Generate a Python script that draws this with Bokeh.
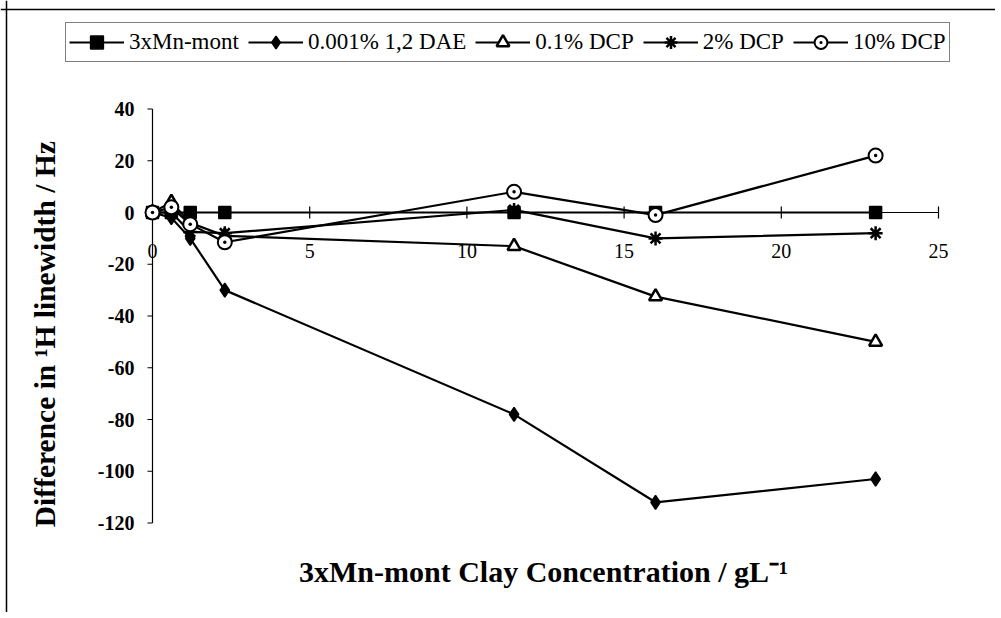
import math
from bokeh.plotting import figure
from bokeh.models import Range1d, Legend, LegendItem, Label, Span
from bokeh.core.properties import value
from bokeh.embed import file_html
from bokeh.resources import INLINE

# ---- data ----
conc = [0, 0.6, 1.2, 2.3, 11.5, 16, 23]           # clay concentration / gL-1
mn_mont = [0, 0, 0, 0, 0, 0, 0]                    # 3xMn-mont
dae_0001 = [0, -2, -10, -30, -78, -112, -103]      # 0.001% 1,2 DAE
dcp_01 = [0, 4, -4, -9, -13, -32.5, -50]           # 0.1% DCP
dcp_2 = [0, 0, -7.5, -8, 1, -10, -8]               # 2% DCP
dcp_10 = [0, 2, -4.5, -11.5, 8, -1, 22]            # 10% DCP
series_names = ["3xMn-mont", "0.001% 1,2 DAE", "0.1% DCP", "2% DCP", "10% DCP"]
x_ticks = [0, 5, 10, 15, 20, 25]
y_ticks = [-120, -100, -80, -60, -40, -20, 0, 20, 40]
x_label = "3xMn-mont Clay Concentration / gL\u207b\u00b9"
y_label = "Difference in \u00b9H linewidth  / Hz"

FONT = "Liberation Serif"

# ---- canvas geometry (pixels) ----
W, H = 995, 612
PX_X0, PX_PER_X = 152.0, 31.44     # pixel column of x=0, pixels per x unit
PX_Y0, PX_PER_Y = 212.0, 2.5875    # pixel row of y=0, pixels per y unit
x_start = -PX_X0 / PX_PER_X
x_end = x_start + W / PX_PER_X
y_end = PX_Y0 / PX_PER_Y
y_start = y_end - H / PX_PER_Y


def dx(px):
    return x_start + px / PX_PER_X


def dy(py):
    return y_end - py / PX_PER_Y


p = figure(width=W, height=H, x_range=Range1d(x_start, x_end),
           y_range=Range1d(y_start, y_end),
           x_axis_location=None, y_axis_location=None,
           output_backend="svg", toolbar_location=None, min_border=0)
p.outline_line_color = None
p.grid.visible = False
p.background_fill_color = "white"
p.border_fill_color = "white"

# outer chart-area border (left and top edges visible in the reference)
p.add_layout(Span(location=dx(6), dimension="height", line_color="black", line_width=1.5))
p.add_layout(Span(location=dy(9), dimension="width", line_color="black", line_width=1.5))

# ---- axes drawn through the data scales ----
p.segment(x0=[x_ticks[0]], y0=[0], x1=[x_ticks[-1]], y1=[0], line_color="black", line_width=1.2)
p.segment(x0=[0], y0=[y_ticks[0]], x1=[0], y1=[y_ticks[-1]], line_color="black", line_width=1.2)
p.ray(x=x_ticks, y=[0] * len(x_ticks), length=6, length_units="screen",
      angle=math.pi / 2, line_color="black", line_width=1.2)
p.ray(x=x_ticks, y=[0] * len(x_ticks), length=6, length_units="screen",
      angle=-math.pi / 2, line_color="black", line_width=1.2)
p.ray(x=[0] * len(y_ticks), y=y_ticks, length=5, length_units="screen",
      angle=math.pi, line_color="black", line_width=1.2)
p.text(x=x_ticks, y=[0] * len(x_ticks), text=[str(t) for t in x_ticks],
       y_offset=38, text_align="center", text_baseline="alphabetic",
       text_font=value(FONT), text_font_size="20px", text_color="black")
p.text(x=[0] * len(y_ticks), y=y_ticks, text=[str(t) for t in y_ticks],
       x_offset=-18, text_align="right", text_baseline="middle",
       text_font=value(FONT), text_font_size="20px", text_font_style="bold",
       text_color="black")

# ---- series ----
styles = [
    (mn_mont, "square", 12, "black", 1.5),
    (dae_0001, "diamond", 14, "black", 1.5),
    (dcp_01, "triangle", 13, "white", 2.5),
    (dcp_2, "asterisk", 14, "black", 2.5),
    (dcp_10, "circle_dot", 14, "white", 2.0),
]

items = []
for name, (ys, marker, size, fill, lw) in zip(series_names, styles):
    lr = p.line(conc, ys, line_color="black", line_width=2.2)
    sr = p.scatter(conc, ys, marker=marker, size=size, fill_color=fill,
                   line_color="black", line_width=lw)
    items.append(LegendItem(label=name, renderers=[lr, sr]))

legend = Legend(items=items, orientation="horizontal", location=(65, H - 62),
                glyph_width=55, glyph_height=32, label_height=26,
                label_standoff=5, spacing=9, padding=3, margin=0,
                label_text_font=FONT, label_text_font_size="23px",
                label_text_color="black",
                border_line_color="black", border_line_width=1.2,
                background_fill_color="white", background_fill_alpha=1.0)
p.add_layout(legend, "center")

p.add_layout(Label(x=dx(543), y=dy(571), text=x_label,
                   text_align="center", text_baseline="middle",
                   text_font=FONT, text_font_style="bold", text_font_size="30px",
                   text_color="black"))
p.add_layout(Label(x=dx(44), y=dy(330), angle=math.pi / 2, text=y_label,
                   text_align="center", text_baseline="middle",
                   text_font=FONT, text_font_style="bold", text_font_size="29.5px",
                   text_color="black"))

open("out.html", "w").write(file_html(p, INLINE))
